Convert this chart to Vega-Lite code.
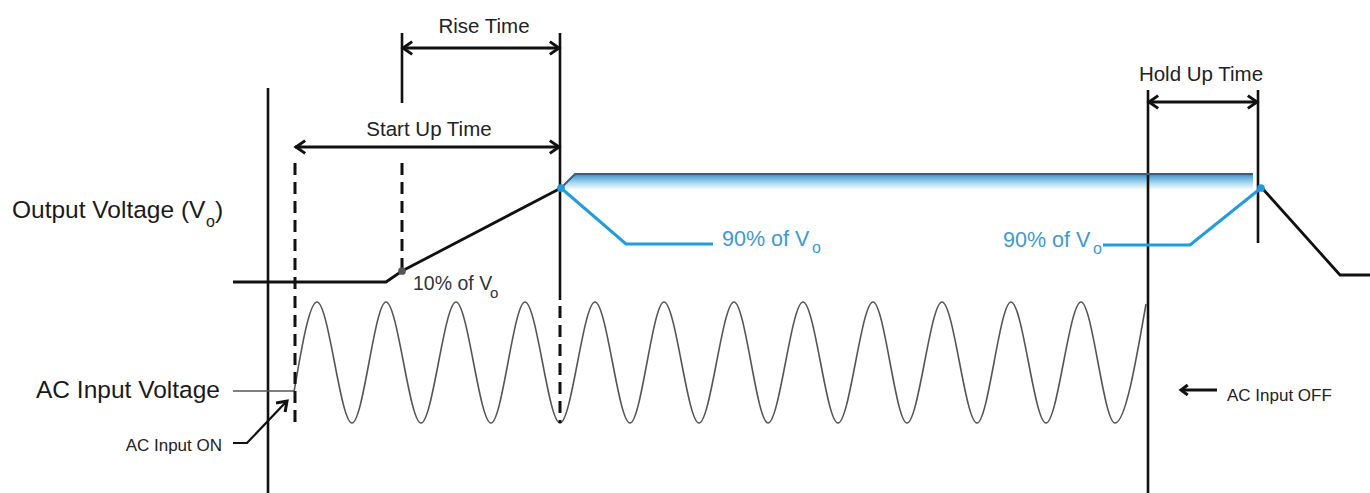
{
  "$schema": "https://vega.github.io/schema/vega-lite/v6.json",
  "width": 1370,
  "height": 493,
  "autosize": "none",
  "padding": 0,
  "background": "white",
  "config": {"view": {"stroke": null}},
  "datasets": {
    "wave": [
      {"x": 294, "y": 392}, {"x": 317, "y": 302}, {"x": 352, "y": 423}, {"x": 386, "y": 302},
      {"x": 421, "y": 423}, {"x": 456, "y": 302}, {"x": 491, "y": 423}, {"x": 525, "y": 302},
      {"x": 560, "y": 423}, {"x": 595, "y": 302}, {"x": 630, "y": 423}, {"x": 664, "y": 302},
      {"x": 699, "y": 423}, {"x": 734, "y": 302}, {"x": 768, "y": 423}, {"x": 803, "y": 302},
      {"x": 838, "y": 423}, {"x": 873, "y": 302}, {"x": 907, "y": 423}, {"x": 942, "y": 302},
      {"x": 977, "y": 423}, {"x": 1011, "y": 302}, {"x": 1046, "y": 423}, {"x": 1081, "y": 302},
      {"x": 1115, "y": 423}, {"x": 1146, "y": 304}
    ],
    "paths": [
      {"id": "vo_on", "trace": "output", "x": 233, "y": 282},
      {"id": "vo_on", "trace": "output", "x": 386, "y": 282},
      {"id": "vo_on", "trace": "output", "x": 402, "y": 271},
      {"id": "vo_on", "trace": "output", "x": 561, "y": 188},
      {"id": "vo_off", "trace": "output", "x": 1262, "y": 188},
      {"id": "vo_off", "trace": "output", "x": 1340, "y": 275},
      {"id": "vo_off", "trace": "output", "x": 1370, "y": 275},
      {"id": "th_on", "trace": "threshold", "x": 561, "y": 188},
      {"id": "th_on", "trace": "threshold", "x": 626, "y": 244},
      {"id": "th_on", "trace": "threshold", "x": 713, "y": 244},
      {"id": "th_off", "trace": "threshold", "x": 1103, "y": 245},
      {"id": "th_off", "trace": "threshold", "x": 1190, "y": 245},
      {"id": "th_off", "trace": "threshold", "x": 1261, "y": 188},
      {"id": "ac_on", "trace": "pointer", "x": 233, "y": 443},
      {"id": "ac_on", "trace": "pointer", "x": 247, "y": 443},
      {"id": "ac_on", "trace": "pointer", "x": 285, "y": 403},
      {"id": "ac_lead", "trace": "leader", "x": 233, "y": 391},
      {"id": "ac_lead", "trace": "leader", "x": 294, "y": 391},
      {"id": "band", "trace": "band", "x": 561, "y": 188},
      {"id": "band", "trace": "band", "x": 575, "y": 174},
      {"id": "band", "trace": "band", "x": 1253, "y": 174}
    ],
    "band": [
      {"x": 561, "y": 188, "y2": 188},
      {"x": 575, "y": 174, "y2": 190},
      {"x": 1253, "y": 174, "y2": 190}
    ],
    "vrules": [
      {"x": 268, "y": 88, "y2": 493, "style": "solid"},
      {"x": 402, "y": 33, "y2": 103, "style": "solid"},
      {"x": 560, "y": 33, "y2": 300, "style": "solid"},
      {"x": 1148, "y": 90, "y2": 493, "style": "solid"},
      {"x": 1258, "y": 90, "y2": 243, "style": "solid"},
      {"x": 295, "y": 163, "y2": 425, "style": "dashed"},
      {"x": 402, "y": 163, "y2": 268, "style": "dashed"},
      {"x": 560, "y": 306, "y2": 423, "style": "dashed"}
    ],
    "hrules": [
      {"x": 402, "x2": 560, "y": 48, "span": "Rise Time"},
      {"x": 295, "x2": 560, "y": 147, "span": "Start Up Time"},
      {"x": 1148, "x2": 1258, "y": 102, "span": "Hold Up Time"},
      {"x": 1181, "x2": 1217, "y": 390, "span": "AC Input OFF"}
    ],
    "heads": [
      {"x": 403, "y": 48, "dir": "left"},
      {"x": 559, "y": 48, "dir": "right"},
      {"x": 296, "y": 147, "dir": "left"},
      {"x": 559, "y": 147, "dir": "right"},
      {"x": 1149, "y": 102, "dir": "left"},
      {"x": 1257, "y": 102, "dir": "right"},
      {"x": 1181, "y": 390, "dir": "leftsmall"},
      {"x": 287, "y": 401, "dir": "upright"}
    ],
    "dots": [
      {"x": 402, "y": 271, "level": "10%"},
      {"x": 561, "y": 188, "level": "90%"},
      {"x": 1261, "y": 188, "level": "90%"}
    ],
    "labels": [
      {"x": 484, "y": 33, "t": "Rise Time", "role": "title"},
      {"x": 429, "y": 136, "t": "Start Up Time", "role": "title"},
      {"x": 1201, "y": 81, "t": "Hold Up Time", "role": "title"},
      {"x": 12, "y": 218, "t": "Output Voltage (V", "role": "big"},
      {"x": 36, "y": 398, "t": "AC Input Voltage", "role": "big"},
      {"x": 215, "y": 218, "t": ")", "role": "big"},
      {"x": 222, "y": 451, "t": "AC Input ON", "role": "smallright"},
      {"x": 1227, "y": 401, "t": "AC Input OFF", "role": "small"},
      {"x": 413, "y": 290, "t": "10% of V", "role": "pct"},
      {"x": 722, "y": 246, "t": "90% of V", "role": "pctblue"},
      {"x": 1003, "y": 247, "t": "90% of V", "role": "pctblue"}
    ],
    "subs": [
      {"x": 206, "y": 227, "t": "o", "tone": "black"},
      {"x": 490, "y": 298, "t": "o", "tone": "gray"},
      {"x": 812, "y": 253, "t": "o", "tone": "blue"},
      {"x": 1093, "y": 254, "t": "o", "tone": "blue"}
    ]
  },
  "encoding": {
    "x": {"field": "x", "type": "quantitative", "scale": {"domain": [0, 1370], "nice": false, "zero": false}, "axis": null},
    "y": {"field": "y", "type": "quantitative", "scale": {"domain": [0, 493], "reverse": true, "nice": false, "zero": false}, "axis": null}
  },
  "layer": [
    {
      "data": {"name": "band"},
      "mark": {
        "type": "area",
        "color": {
          "gradient": "linear", "x1": 0, "y1": 0, "x2": 0, "y2": 1,
          "stops": [
            {"offset": 0, "color": "#4486b0"},
            {"offset": 0.2, "color": "#62acda"},
            {"offset": 0.6, "color": "#b4dcf2"},
            {"offset": 1, "color": "#ffffff"}
          ]
        }
      },
      "encoding": {"y2": {"field": "y2"}}
    },
    {
      "data": {"name": "wave"},
      "mark": {"type": "line", "interpolate": "monotone", "color": "#555555", "strokeWidth": 1.6},
      "encoding": {}
    },
    {
      "data": {"name": "vrules"},
      "transform": [{"filter": "datum.style == 'solid'"}],
      "mark": {"type": "rule", "color": "#111111", "strokeWidth": 2.6},
      "encoding": {"y2": {"field": "y2"}}
    },
    {
      "data": {"name": "vrules"},
      "transform": [{"filter": "datum.style == 'dashed'"}],
      "mark": {"type": "rule", "color": "#111111", "strokeWidth": 3, "strokeDash": [12, 7]},
      "encoding": {"y2": {"field": "y2"}}
    },
    {
      "data": {"name": "hrules"},
      "mark": {"type": "rule", "color": "#111111", "strokeWidth": 3},
      "encoding": {"x2": {"field": "x2"}}
    },
    {
      "data": {"name": "paths"},
      "transform": [{"filter": "datum.trace == 'output'"}],
      "mark": {"type": "line", "color": "#111111", "strokeWidth": 2.8, "strokeJoin": "miter"},
      "encoding": {"detail": {"field": "id"}}
    },
    {
      "data": {"name": "paths"},
      "transform": [{"filter": "datum.trace == 'band'"}],
      "mark": {"type": "line", "color": "#34607c", "strokeWidth": 2},
      "encoding": {"detail": {"field": "id"}}
    },
    {
      "data": {"name": "paths"},
      "transform": [{"filter": "datum.trace == 'threshold'"}],
      "mark": {"type": "line", "color": "#1f9de0", "strokeWidth": 3},
      "encoding": {"detail": {"field": "id"}}
    },
    {
      "data": {"name": "paths"},
      "transform": [{"filter": "datum.trace == 'pointer'"}],
      "mark": {"type": "line", "color": "#111111", "strokeWidth": 2.2},
      "encoding": {"detail": {"field": "id"}}
    },
    {
      "data": {"name": "paths"},
      "transform": [{"filter": "datum.trace == 'leader'"}],
      "mark": {"type": "line", "color": "#555555", "strokeWidth": 1.6},
      "encoding": {"detail": {"field": "id"}}
    },
    {
      "data": {"name": "heads"},
      "mark": {"type": "point", "filled": false, "stroke": "#111111", "strokeWidth": 3, "size": 500, "opacity": 1},
      "encoding": {
        "shape": {
          "field": "dir", "type": "nominal", "legend": null,
          "scale": {
            "domain": ["left", "right", "leftsmall", "upright"],
            "range": ["M0.82,-0.57L0,0L0.82,0.57", "M-0.82,-0.57L0,0L-0.82,0.57", "M0.6,-0.45L0,0L0.6,0.45", "M-0.17,0.98L0,0L-0.98,0.17"]
          }
        }
      }
    },
    {
      "data": {"name": "dots"},
      "transform": [{"filter": "datum.level == '10%'"}],
      "mark": {"type": "circle", "size": 60, "opacity": 1, "color": "#555555"},
      "encoding": {}
    },
    {
      "data": {"name": "dots"},
      "transform": [{"filter": "datum.level == '90%'"}],
      "mark": {"type": "circle", "size": 60, "opacity": 1, "color": "#1e9be0"},
      "encoding": {}
    },
    {
      "data": {"name": "labels"},
      "transform": [{"filter": "datum.role == 'title'"}],
      "mark": {"type": "text", "align": "center", "baseline": "alphabetic", "font": "Liberation Sans", "fontSize": 20.5, "color": "#222222"},
      "encoding": {"text": {"field": "t"}}
    },
    {
      "data": {"name": "labels"},
      "transform": [{"filter": "datum.role == 'big'"}],
      "mark": {"type": "text", "align": "left", "baseline": "alphabetic", "font": "Liberation Sans", "fontSize": 24.5, "color": "#1a1a1a"},
      "encoding": {"text": {"field": "t"}}
    },
    {
      "data": {"name": "labels"},
      "transform": [{"filter": "datum.role == 'smallright'"}],
      "mark": {"type": "text", "align": "right", "baseline": "alphabetic", "font": "Liberation Sans", "fontSize": 17, "color": "#222222"},
      "encoding": {"text": {"field": "t"}}
    },
    {
      "data": {"name": "labels"},
      "transform": [{"filter": "datum.role == 'small'"}],
      "mark": {"type": "text", "align": "left", "baseline": "alphabetic", "font": "Liberation Sans", "fontSize": 17, "color": "#222222"},
      "encoding": {"text": {"field": "t"}}
    },
    {
      "data": {"name": "labels"},
      "transform": [{"filter": "datum.role == 'pct'"}],
      "mark": {"type": "text", "align": "left", "baseline": "alphabetic", "font": "Liberation Sans", "fontSize": 19.5, "color": "#333333"},
      "encoding": {"text": {"field": "t"}}
    },
    {
      "data": {"name": "labels"},
      "transform": [{"filter": "datum.role == 'pctblue'"}],
      "mark": {"type": "text", "align": "left", "baseline": "alphabetic", "font": "Liberation Sans", "fontSize": 21.5, "color": "#3a9ad8"},
      "encoding": {"text": {"field": "t"}}
    },
    {
      "data": {"name": "subs"},
      "transform": [{"filter": "datum.tone == 'black'"}],
      "mark": {"type": "text", "align": "left", "baseline": "alphabetic", "font": "Liberation Sans", "fontSize": 16, "color": "#1a1a1a"},
      "encoding": {"text": {"field": "t"}}
    },
    {
      "data": {"name": "subs"},
      "transform": [{"filter": "datum.tone == 'gray'"}],
      "mark": {"type": "text", "align": "left", "baseline": "alphabetic", "font": "Liberation Sans", "fontSize": 15, "color": "#333333"},
      "encoding": {"text": {"field": "t"}}
    },
    {
      "data": {"name": "subs"},
      "transform": [{"filter": "datum.tone == 'blue'"}],
      "mark": {"type": "text", "align": "left", "baseline": "alphabetic", "font": "Liberation Sans", "fontSize": 16, "color": "#3a9ad8"},
      "encoding": {"text": {"field": "t"}}
    }
  ]
}
